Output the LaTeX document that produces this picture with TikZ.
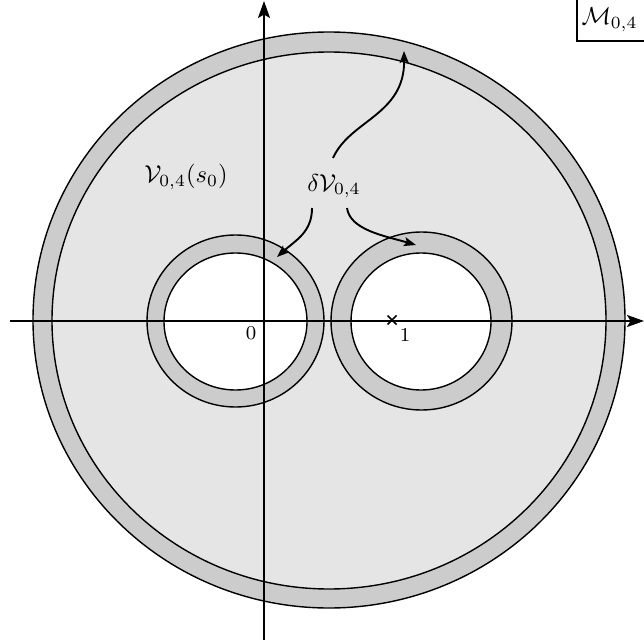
\documentclass[tikz,border=0pt]{standalone}
\usetikzlibrary{arrows.meta}
\begin{document}
\begin{tikzpicture}[x=1pt,y=-1pt,
  ring/.style={draw=black,line width=1.4pt},
  axis/.style={line width=2pt,-{Stealth[length=17pt,width=12pt,inset=3.5pt]}},
  pointer/.style={line width=1.9pt,-{Stealth[length=12pt,width=9pt,inset=2.5pt]}},
  lbl/.style={scale=2.45,inner sep=0pt},
  tick/.style={scale=2.45,font=\footnotesize,inner sep=0pt}]
\useasboundingbox (0,0) rectangle (644,644);
% outer annulus
\fill[gray!40] (329,320) ellipse [x radius=296,y radius=288];
\draw[ring] (329,320) ellipse [x radius=296,y radius=288];
\filldraw[ring,fill=gray!20] (329,320.5) ellipse [x radius=277,y radius=268.5];
% left small annulus
\filldraw[ring,fill=gray!40] (235.5,321) ellipse [x radius=88.5,y radius=86];
\filldraw[ring,fill=white] (235.5,321.5) ellipse [x radius=71.5,y radius=68.5];
% right small annulus
\filldraw[ring,fill=gray!40] (421.5,321) ellipse [x radius=90.5,y radius=89];
\filldraw[ring,fill=white] (421,321.5) ellipse [x radius=70,y radius=68.5];
% axes
\coordinate (xs) at (10,321);
\coordinate (xe) at (644,321);
\coordinate (ys) at (264,640);
\coordinate (ye) at (264,1);
\draw[axis] (xs) -- (xe);
\draw[axis] (ys) -- (ye);
% cross at 1
\coordinate (one) at (392,320);
\draw[line width=1.6pt] ([shift={(-4.5,-4.5)}]one) -- ([shift={(4.5,4.5)}]one)
  ([shift={(-4.5,4.5)}]one) -- ([shift={(4.5,-4.5)}]one);
\node[tick] (l0) at (251,333) {$0$};
\node[tick] (l1) at (405,335) {$1$};
% labels
\node[lbl] (V) at (186,177) {$\mathcal{V}_{0,4}(s_0)$};
\node[lbl] (dV) at (334,186) {$\delta\mathcal{V}_{0,4}$};
% pointers
\coordinate (a1s) at (333,158);
\coordinate (a1e) at (404,51);
\coordinate (a2s) at (312,208);
\coordinate (a2e) at (277,257);
\coordinate (a3s) at (347,208);
\coordinate (a3e) at (416,245);
\draw[pointer] (a1s) .. controls (350,120) and (405,115) .. (a1e);
\draw[pointer] (a2s) .. controls (312,232) and (296,240) .. (a2e);
\draw[pointer] (a3s) .. controls (350,230) and (385,236) .. (a3e);
% M label
\coordinate (mb) at (577,41);
\draw[line width=1.2pt] (577,0) -- (mb) -- (650,41);
\node[lbl,anchor=west] (M) at (581,20) {$\mathcal{M}_{0,4}$};
\end{tikzpicture}
\end{document}
